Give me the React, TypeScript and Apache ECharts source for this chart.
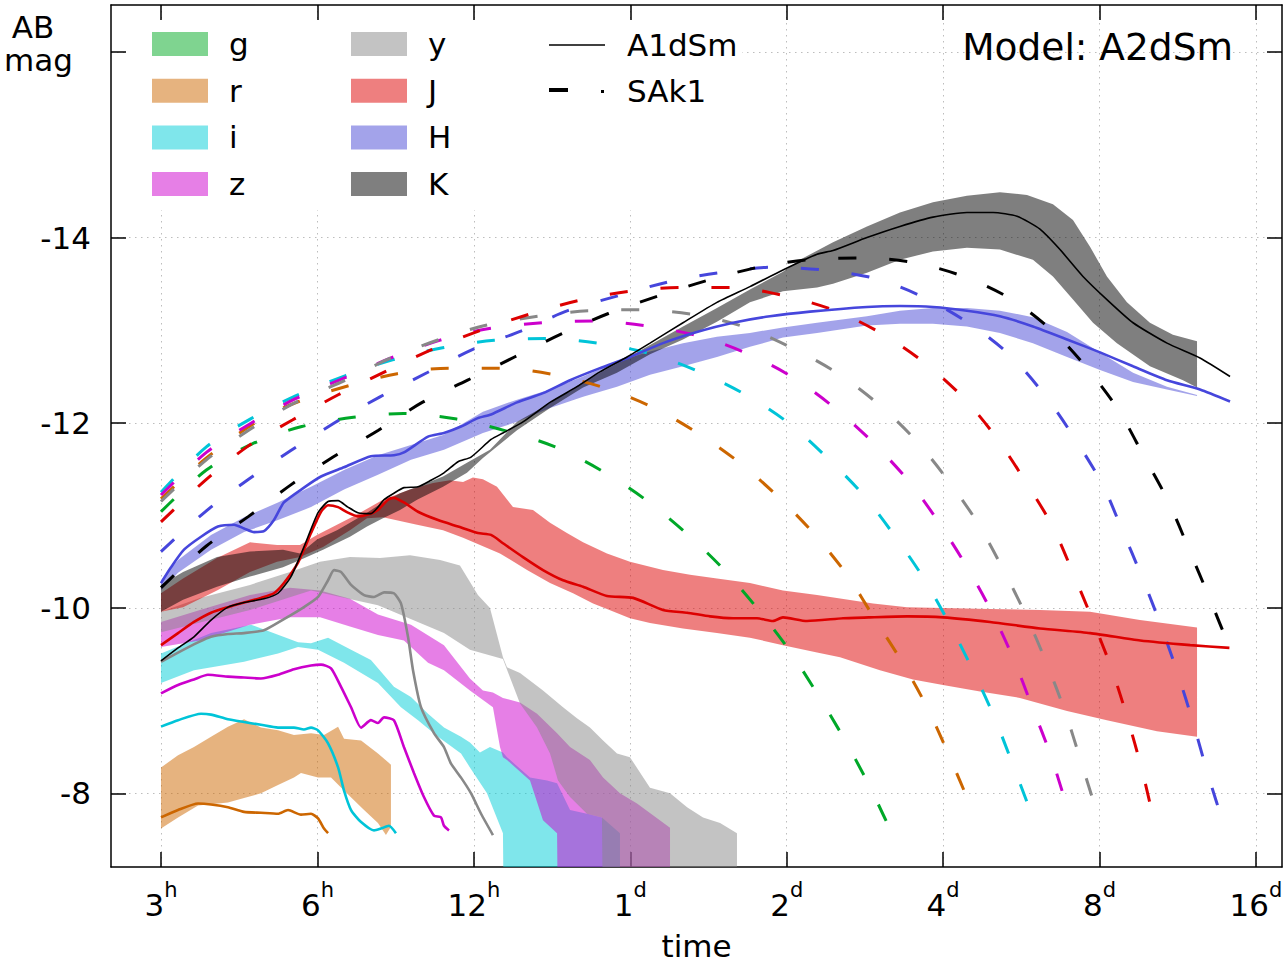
import React, { useEffect, useRef } from 'react';
import * as echarts from 'echarts';

const FONT = '"DejaVu Sans", "Liberation Sans", sans-serif';

// x = log2(time / day), y = AB magnitude
const X_MIN = -3.3196;
const X_MAX = 4.1662;
const Y_MIN = -16.51;
const Y_MAX = -7.205;

const X_TICKS = [-3, -2, -1, 0, 1, 2, 3, 4];
const X_TICK_NUM = ['3', '6', '12', '1', '2', '4', '8', '16'];
const X_TICK_UNIT = ['h', 'h', 'h', 'd', 'd', 'd', 'd', 'd'];
const Y_TICKS = [-16, -14, -12, -10, -8];
const Y_LABELS = [-14, -12, -10, -8];

// ---------- Model A2dSm bands (bright edge / faint edge) ----------
const gHi: number[][] = []; // g band lies below the plotted range
const gLo: number[][] = [];
const rHi = [[-3.0,-8.28],[-2.891,-8.41],[-2.789,-8.50],[-2.680,-8.61],[-2.572,-8.72],[-2.469,-8.80],[-2.361,-8.71],[-2.252,-8.68],[-2.150,-8.63],[-2.041,-8.65],[-1.958,-8.63],[-1.868,-8.72],[-1.830,-8.59],[-1.721,-8.57],[-1.613,-8.43],[-1.530,-8.31]];
const rLo = [[-3.0,-7.62],[-2.891,-7.74],[-2.763,-7.87],[-2.572,-7.90],[-2.469,-7.95],[-2.361,-8.00],[-2.252,-8.09],[-2.150,-8.17],[-2.105,-8.22],[-1.996,-8.17],[-1.913,-8.17],[-1.830,-8.03],[-1.702,-7.82],[-1.613,-7.68],[-1.562,-7.55],[-1.530,-7.64]];
const iHi = [[-3.0,-9.51],[-2.680,-9.73],[-2.424,-9.82],[-2.124,-9.63],[-2.041,-9.62],[-1.932,-9.68],[-1.785,-9.55],[-1.658,-9.44],[-1.511,-9.15],[-1.402,-9.04],[-1.293,-8.86],[-1.191,-8.71],[-1.082,-8.61],[-1.025,-8.55],[-0.961,-8.44],[-0.897,-8.50],[-0.814,-8.44],[-0.788,-8.39],[-0.641,-8.17],[-0.532,-8.14],[-0.468,-8.11],[-0.385,-7.82],[-0.277,-7.78],[-0.181,-7.74],[-0.066,-7.57]];
const iLo = [[-3.0,-9.19],[-2.789,-9.33],[-2.469,-9.42],[-2.252,-9.51],[-2.124,-9.58],[-1.996,-9.55],[-1.830,-9.41],[-1.613,-9.19],[-1.466,-8.93],[-1.357,-8.79],[-1.229,-8.61],[-1.082,-8.43],[-1.025,-8.28],[-0.916,-8.00],[-0.814,-7.57],[-0.812,-6.80],[-0.066,-6.80]];
const zHi = [[-3.0,-9.85],[-2.751,-9.98],[-2.431,-10.14],[-2.175,-10.22],[-1.983,-10.19],[-1.792,-10.10],[-1.613,-9.93],[-1.402,-9.82],[-1.191,-9.60],[-1.025,-9.24],[-0.942,-9.11],[-0.878,-9.09],[-0.814,-9.03],[-0.705,-8.98],[-0.596,-8.86],[-0.468,-8.65],[-0.385,-8.50],[-0.258,-8.36],[-0.174,-8.17],[-0.066,-8.00],[0.043,-7.89],[0.254,-7.63]];
const zLo = [[-3.0,-9.58],[-2.751,-9.65],[-2.431,-9.82],[-2.175,-9.90],[-1.983,-9.90],[-1.792,-9.80],[-1.613,-9.71],[-1.447,-9.65],[-1.293,-9.41],[-1.191,-9.33],[-1.025,-9.11],[-0.878,-8.93],[-0.833,-8.50],[-0.814,-8.39],[-0.788,-8.36],[-0.641,-8.14],[-0.558,-7.71],[-0.468,-7.57],[-0.466,-6.80],[0.254,-6.80]];
const yHi = [[-3.0,-9.96],[-2.751,-10.11],[-2.431,-10.25],[-2.175,-10.39],[-1.984,-10.50],[-1.792,-10.55],[-1.600,-10.54],[-1.408,-10.57],[-1.216,-10.52],[-1.089,-10.46],[-0.974,-10.14],[-0.897,-10.00],[-0.814,-9.47],[-0.788,-9.36],[-0.705,-9.30],[-0.558,-9.11],[-0.430,-8.93],[-0.341,-8.81],[-0.258,-8.71],[-0.174,-8.57],[-0.085,-8.43],[-0.002,-8.39],[0.126,-8.06],[0.254,-8.00],[0.363,-7.85],[0.465,-7.74],[0.574,-7.68],[0.682,-7.57]];
const yLo = [[-3.0,-9.74],[-2.431,-9.98],[-2.041,-10.19],[-1.613,-10.03],[-1.191,-9.73],[-1.025,-9.55],[-0.814,-9.45],[-0.705,-8.97],[-0.596,-8.71],[-0.513,-8.43],[-0.462,-8.14],[-0.385,-7.96],[-0.277,-7.78],[-0.181,-7.74],[-0.178,-6.80],[0.682,-6.80]];
const jHi = [[-3.0,-10.16],[-2.859,-10.32],[-2.642,-10.54],[-2.431,-10.71],[-2.258,-10.68],[-2.111,-10.68],[-2.003,-10.79],[-1.875,-10.90],[-1.747,-11.01],[-1.581,-11.17],[-1.408,-11.28],[-1.261,-11.35],[-1.153,-11.38],[-1.069,-11.36],[-1.006,-11.41],[-0.942,-11.39],[-0.852,-11.31],[-0.750,-11.09],[-0.622,-11.06],[-0.513,-10.92],[-0.405,-10.81],[-0.302,-10.71],[-0.149,-10.59],[-0.002,-10.50],[0.209,-10.41],[0.382,-10.36],[0.554,-10.32],[0.765,-10.27],[0.976,-10.19],[1.194,-10.14],[1.552,-10.05],[1.769,-10.01],[1.999,-10.00],[2.300,-9.99],[2.619,-9.98],[2.939,-9.96],[3.258,-9.87],[3.623,-9.79]];
const jLo = [[-3.0,-9.96],[-2.859,-10.01],[-2.642,-10.19],[-2.431,-10.39],[-2.258,-10.50],[-2.111,-10.55],[-1.964,-10.66],[-1.792,-10.84],[-1.683,-10.97],[-1.581,-10.98],[-1.363,-10.90],[-1.197,-10.84],[-1.069,-10.76],[-0.833,-10.59],[-0.660,-10.41],[-0.513,-10.27],[-0.366,-10.16],[-0.238,-10.05],[-0.149,-9.99],[-0.002,-9.89],[0.126,-9.84],[0.337,-9.78],[0.554,-9.73],[0.765,-9.68],[0.976,-9.60],[1.194,-9.52],[1.341,-9.47],[1.596,-9.33],[1.807,-9.23],[1.999,-9.17],[2.236,-9.10],[2.491,-9.03],[2.792,-8.89],[3.047,-8.79],[3.367,-8.67],[3.623,-8.61]];
const hHi = [[-3.0,-10.30],[-2.891,-10.52],[-2.680,-10.79],[-2.469,-10.98],[-2.252,-11.14],[-2.041,-11.31],[-1.830,-11.49],[-1.613,-11.65],[-1.402,-11.76],[-1.191,-11.87],[-0.942,-12.12],[-0.724,-12.25],[-0.513,-12.36],[-0.302,-12.50],[-0.085,-12.66],[0.126,-12.77],[0.337,-12.86],[0.554,-12.93],[0.765,-12.97],[0.976,-13.03],[1.194,-13.08],[1.513,-13.15],[1.724,-13.21],[1.935,-13.24],[2.152,-13.24],[2.363,-13.21],[2.574,-13.14],[2.792,-12.98],[3.003,-12.76],[3.214,-12.54],[3.431,-12.39],[3.623,-12.30]];
const hLo = [[-3.0,-10.19],[-2.891,-10.38],[-2.680,-10.63],[-2.469,-10.82],[-2.252,-10.95],[-2.041,-11.09],[-1.830,-11.28],[-1.613,-11.44],[-1.402,-11.60],[-1.191,-11.71],[-0.942,-11.89],[-0.724,-12.01],[-0.513,-12.16],[-0.302,-12.28],[-0.085,-12.39],[0.126,-12.52],[0.337,-12.61],[0.554,-12.71],[0.765,-12.82],[0.976,-12.92],[1.194,-12.97],[1.513,-13.05],[1.724,-13.07],[1.935,-13.07],[2.152,-13.04],[2.363,-12.97],[2.574,-12.86],[2.792,-12.71],[3.003,-12.57],[3.214,-12.44],[3.431,-12.36],[3.623,-12.29]];
const kHi = [[-3.0,-10.25],[-2.859,-10.39],[-2.642,-10.55],[-2.431,-10.61],[-2.220,-10.63],[-2.111,-10.59],[-2.003,-10.74],[-1.875,-10.84],[-1.792,-10.92],[-1.683,-11.03],[-1.581,-11.14],[-1.472,-11.24],[-1.363,-11.31],[-1.197,-11.42],[-1.044,-11.57],[-0.897,-11.71],[-0.724,-12.01],[-0.513,-12.21],[-0.302,-12.44],[-0.085,-12.64],[0.126,-12.84],[0.337,-13.04],[0.554,-13.24],[0.765,-13.44],[0.976,-13.63],[1.085,-13.76],[1.296,-13.95],[1.513,-14.12],[1.724,-14.27],[1.935,-14.38],[2.152,-14.45],[2.363,-14.49],[2.536,-14.46],[2.702,-14.36],[2.830,-14.19],[2.939,-13.90],[3.047,-13.58],[3.175,-13.30],[3.322,-13.08],[3.469,-12.95],[3.623,-12.88]];
const kLo = [[-3.0,-9.96],[-2.859,-10.09],[-2.642,-10.23],[-2.431,-10.34],[-2.220,-10.44],[-2.111,-10.52],[-1.964,-10.63],[-1.792,-10.77],[-1.683,-10.88],[-1.581,-10.97],[-1.472,-11.06],[-1.363,-11.17],[-1.197,-11.31],[-1.044,-11.46],[-0.942,-11.62],[-0.724,-11.92],[-0.513,-12.16],[-0.302,-12.38],[-0.085,-12.54],[0.126,-12.74],[0.337,-12.90],[0.554,-13.09],[0.765,-13.30],[0.976,-13.42],[1.194,-13.46],[1.296,-13.50],[1.513,-13.62],[1.724,-13.76],[1.935,-13.85],[2.152,-13.89],[2.363,-13.87],[2.574,-13.76],[2.702,-13.58],[2.830,-13.33],[2.958,-13.08],[3.111,-12.86],[3.322,-12.61],[3.533,-12.46],[3.623,-12.38]];

// ---------- Model A1dSm (solid) ----------
const a1R = [[-3.0,-7.74],[-2.891,-7.82],[-2.763,-7.89],[-2.680,-7.88],[-2.572,-7.85],[-2.469,-7.80],[-2.361,-7.79],[-2.252,-7.78],[-2.188,-7.82],[-2.105,-7.77],[-2.041,-7.78],[-1.996,-7.73],[-1.958,-7.62],[-1.932,-7.57]];
const a1I = [[-3.0,-8.72],[-2.891,-8.79],[-2.744,-8.86],[-2.680,-8.85],[-2.572,-8.80],[-2.469,-8.77],[-2.361,-8.74],[-2.252,-8.71],[-2.150,-8.71],[-2.086,-8.69],[-2.041,-8.71],[-1.996,-8.68],[-1.932,-8.54],[-1.868,-8.28],[-1.830,-8.03],[-1.785,-7.82],[-1.721,-7.69],[-1.638,-7.60],[-1.594,-7.62],[-1.543,-7.65],[-1.498,-7.57]];
const a1Z = [[-3.0,-9.08],[-2.891,-9.17],[-2.789,-9.23],[-2.700,-9.28],[-2.572,-9.26],[-2.469,-9.25],[-2.361,-9.24],[-2.252,-9.28],[-2.150,-9.34],[-2.041,-9.38],[-1.977,-9.39],[-1.913,-9.35],[-1.849,-9.15],[-1.785,-8.93],[-1.721,-8.71],[-1.658,-8.79],[-1.613,-8.76],[-1.574,-8.82],[-1.511,-8.79],[-1.447,-8.50],[-1.383,-8.22],[-1.319,-7.96],[-1.255,-7.76],[-1.210,-7.74],[-1.191,-7.65],[-1.159,-7.60]];
const a1Y = [[-3.0,-9.42],[-2.891,-9.52],[-2.763,-9.63],[-2.680,-9.69],[-2.572,-9.72],[-2.469,-9.73],[-2.342,-9.76],[-2.214,-9.88],[-2.086,-10.01],[-1.996,-10.12],[-1.932,-10.30],[-1.894,-10.41],[-1.849,-10.39],[-1.785,-10.25],[-1.702,-10.14],[-1.638,-10.12],[-1.574,-10.17],[-1.511,-10.16],[-1.466,-10.05],[-1.421,-9.69],[-1.389,-9.33],[-1.338,-8.93],[-1.255,-8.65],[-1.191,-8.50],[-1.146,-8.32],[-1.082,-8.17],[-1.018,-8.00],[-0.954,-7.78],[-0.878,-7.55]];
const a1J = [[-3.0,-9.60],[-2.891,-9.73],[-2.789,-9.85],[-2.680,-9.95],[-2.572,-10.01],[-2.469,-10.06],[-2.361,-10.11],[-2.278,-10.16],[-2.214,-10.27],[-2.124,-10.49],[-2.041,-10.81],[-1.977,-11.04],[-1.932,-11.11],[-1.868,-11.09],[-1.805,-11.03],[-1.741,-10.99],[-1.677,-11.01],[-1.613,-11.06],[-1.549,-11.17],[-1.511,-11.19],[-1.447,-11.14],[-1.357,-11.04],[-1.229,-10.95],[-1.101,-10.88],[-0.974,-10.81],[-0.890,-10.79],[-0.814,-10.70],[-0.686,-10.55],[-0.558,-10.41],[-0.430,-10.30],[-0.302,-10.23],[-0.149,-10.13],[0.018,-10.11],[0.209,-9.98],[0.363,-9.95],[0.510,-9.91],[0.657,-9.89],[0.810,-9.89],[0.912,-9.86],[0.976,-9.90],[1.130,-9.86],[1.360,-9.89],[1.532,-9.90],[1.770,-9.91],[2.000,-9.90],[2.300,-9.85],[2.620,-9.78],[2.940,-9.73],[3.260,-9.65],[3.580,-9.60],[3.830,-9.57]];
const a1H = [[-3.0,-10.27],[-2.936,-10.44],[-2.853,-10.63],[-2.744,-10.77],[-2.636,-10.88],[-2.533,-10.90],[-2.469,-10.86],[-2.405,-10.82],[-2.342,-10.83],[-2.278,-10.95],[-2.214,-11.14],[-2.086,-11.30],[-1.977,-11.42],[-1.830,-11.52],[-1.658,-11.64],[-1.511,-11.65],[-1.447,-11.68],[-1.293,-11.85],[-1.191,-11.89],[-1.082,-11.96],[-0.974,-12.05],[-0.890,-12.09],[-0.724,-12.22],[-0.558,-12.32],[-0.385,-12.46],[-0.194,-12.59],[-0.002,-12.71],[0.209,-12.86],[0.426,-12.98],[0.657,-13.08],[0.893,-13.15],[1.149,-13.20],[1.513,-13.25],[1.724,-13.26],[1.935,-13.25],[2.152,-13.21],[2.363,-13.15],[2.574,-13.04],[2.792,-12.90],[3.003,-12.76],[3.214,-12.61],[3.431,-12.46],[3.642,-12.36],[3.834,-12.23]];
const a1K = [[-3.0,-9.43],[-2.891,-9.57],[-2.789,-9.69],[-2.680,-9.87],[-2.572,-10.01],[-2.469,-10.06],[-2.342,-10.10],[-2.252,-10.16],[-2.169,-10.34],[-2.086,-10.66],[-1.996,-11.03],[-1.932,-11.15],[-1.868,-11.16],[-1.805,-11.09],[-1.741,-11.03],[-1.658,-11.02],[-1.574,-11.17],[-1.511,-11.24],[-1.447,-11.30],[-1.357,-11.31],[-1.274,-11.38],[-1.191,-11.46],[-1.101,-11.58],[-1.018,-11.63],[-0.890,-11.82],[-0.814,-11.89],[-0.686,-12.01],[-0.513,-12.22],[-0.341,-12.39],[-0.194,-12.55],[-0.021,-12.71],[0.126,-12.86],[0.337,-13.08],[0.554,-13.30],[0.765,-13.47],[0.976,-13.65],[1.194,-13.82],[1.296,-13.86],[1.513,-14.00],[1.724,-14.12],[1.935,-14.22],[2.152,-14.27],[2.319,-14.27],[2.472,-14.23],[2.619,-14.09],[2.747,-13.87],[2.894,-13.58],[3.047,-13.33],[3.214,-13.08],[3.431,-12.86],[3.642,-12.70],[3.834,-12.50]];

// ---------- Model SAk1 (dashed) ----------
const sakG = [[-3.0,-11.04],[-2.71,-11.49],[-2.42,-11.77],[-2.10,-11.96],[-1.77,-12.06],[-1.45,-12.10],[-1.11,-12.04],[-0.79,-11.91],[-0.48,-11.74],[-0.18,-11.48],[0.09,-11.18],[0.35,-10.82],[0.59,-10.43],[0.81,-10.00],[1.01,-9.56],[1.19,-9.09],[1.36,-8.61],[1.52,-8.11],[1.66,-7.62],[1.69,-7.55]];
const sakR = [[-3.0,-11.18],[-2.71,-11.62],[-2.38,-12.02],[-2.12,-12.23],[-1.80,-12.40],[-1.49,-12.53],[-1.16,-12.59],[-0.83,-12.59],[-0.49,-12.52],[-0.17,-12.38],[0.14,-12.17],[0.43,-11.89],[0.69,-11.58],[0.94,-11.21],[1.17,-10.81],[1.385,-10.36],[1.56,-9.89],[1.74,-9.41],[1.90,-8.92],[2.04,-8.40],[2.17,-7.89],[2.20,-7.80]];
const sakI = [[-3.0,-11.25],[-2.71,-11.74],[-2.43,-12.04],[-2.14,-12.29],[-1.82,-12.51],[-1.52,-12.68],[-1.20,-12.81],[-0.87,-12.89],[-0.53,-12.91],[-0.21,-12.86],[0.12,-12.75],[0.43,-12.56],[0.73,-12.31],[1.01,-12.00],[1.26,-11.62],[1.49,-11.22],[1.69,-10.78],[1.88,-10.31],[2.04,-9.83],[2.19,-9.33],[2.33,-8.81],[2.45,-8.29],[2.57,-7.76],[2.60,-7.66]];
const sakZ = [[-3.0,-11.22],[-2.71,-11.68],[-2.43,-11.99],[-2.14,-12.26],[-1.82,-12.49],[-1.53,-12.70],[-1.22,-12.89],[-0.93,-13.01],[-0.56,-13.08],[-0.24,-13.10],[0.09,-13.05],[0.43,-12.94],[0.73,-12.76],[1.03,-12.50],[1.30,-12.17],[1.55,-11.79],[1.79,-11.35],[1.97,-10.93],[2.15,-10.45],[2.31,-9.96],[2.45,-9.45],[2.57,-8.93],[2.69,-8.40],[2.79,-7.87],[2.82,-7.75]];
const sakY = [[-3.0,-11.15],[-2.71,-11.60],[-2.43,-11.93],[-2.14,-12.22],[-1.82,-12.46],[-1.53,-12.70],[-1.22,-12.90],[-0.93,-13.05],[-0.59,-13.15],[-0.27,-13.21],[0.07,-13.22],[0.40,-13.17],[0.72,-13.04],[1.02,-12.82],[1.32,-12.54],[1.58,-12.21],[1.82,-11.82],[2.04,-11.36],[2.22,-10.92],[2.38,-10.43],[2.53,-9.92],[2.66,-9.41],[2.78,-8.88],[2.88,-8.35],[2.98,-7.81],[3.00,-7.70]];
const sakJ = [[-3.0,-10.93],[-2.71,-11.39],[-2.45,-11.74],[-2.16,-12.03],[-1.87,-12.30],[-1.57,-12.55],[-1.27,-12.79],[-0.97,-12.99],[-0.65,-13.17],[-0.33,-13.32],[0.0,-13.42],[0.33,-13.46],[0.66,-13.46],[0.99,-13.37],[1.31,-13.21],[1.61,-12.96],[1.88,-12.65],[2.13,-12.27],[2.34,-11.84],[2.54,-11.33],[2.70,-10.88],[2.83,-10.38],[2.96,-9.85],[3.08,-9.33],[3.18,-8.80],[3.27,-8.26],[3.35,-7.71],[3.38,-7.60]];
const sakH = [[-3.0,-10.61],[-2.71,-11.05],[-2.44,-11.39],[-2.17,-11.70],[-1.89,-12.00],[-1.60,-12.28],[-1.30,-12.54],[-1.01,-12.79],[-0.70,-12.99],[-0.40,-13.21],[-0.08,-13.37],[0.24,-13.52],[0.57,-13.62],[0.91,-13.68],[1.23,-13.65],[1.56,-13.56],[1.87,-13.36],[2.16,-13.08],[2.42,-12.74],[2.64,-12.32],[2.83,-11.86],[3.02,-11.33],[3.14,-10.86],[3.27,-10.34],[3.39,-9.82],[3.50,-9.29],[3.60,-8.75],[3.69,-8.22],[3.79,-7.68],[3.81,-7.58]];
const sakK = [[-3.0,-10.22],[-2.71,-10.67],[-2.44,-10.99],[-2.17,-11.33],[-1.90,-11.63],[-1.61,-11.92],[-1.33,-12.22],[-1.04,-12.46],[-0.74,-12.71],[-0.44,-12.96],[-0.14,-13.18],[0.18,-13.37],[0.50,-13.54],[0.82,-13.68],[1.14,-13.76],[1.48,-13.78],[1.81,-13.73],[2.13,-13.58],[2.43,-13.34],[2.70,-12.99],[2.92,-12.59],[3.12,-12.14],[3.28,-11.65],[3.44,-11.15],[3.57,-10.64],[3.70,-10.12],[3.82,-9.63],[3.85,-9.57]];

const BAND_NAMES = ['g', 'r', 'i', 'z', 'y', 'J', 'H', 'K'];
const BAND_FILL = ['rgba(0,170,34,0.5)', 'rgba(205,103,0,0.5)', 'rgba(0,205,215,0.5)', 'rgba(205,0,205,0.5)', 'rgba(135,135,135,0.5)', 'rgba(221,0,0,0.5)', 'rgba(71,71,213,0.5)', 'rgba(0,0,0,0.5)'];
const LINE_COLOR = ['#00a828', '#cc6600', '#00c4d8', '#cc00cc', '#888888', '#dd0000', '#4646dc', '#000000'];
const BAND_HI = [gHi, rHi, iHi, zHi, yHi, jHi, hHi, kHi];
const BAND_LO = [gLo, rLo, iLo, zLo, yLo, jLo, hLo, kLo];
const A1 = [null, a1R, a1I, a1Z, a1Y, a1J, a1H, a1K];
const SAK = [sakG, sakR, sakI, sakZ, sakY, sakJ, sakH, sakK];

const clampY = (v: number) => Math.min(Math.max(v, Y_MIN), Y_MAX);

function buildOption(): any {
  const series: any[] = [];
  BAND_NAMES.forEach((name, k) => {
    const hi = BAND_HI[k];
    const lo = BAND_LO[k];
    series.push({
      type: 'custom',
      name: name,
      coordinateSystem: 'cartesian2d',
      silent: true,
      clip: true,
      z: 2,
      data: hi.length ? [hi[0]] : [],
      renderItem: (_p: any, api: any) => {
        const pts = hi.map((d) => api.coord([d[0], clampY(d[1])]))
          .concat(lo.slice().reverse().map((d) => api.coord([d[0], clampY(d[1])])));
        return { type: 'polygon', shape: { points: pts }, style: { fill: BAND_FILL[k], lineWidth: 0 } };
      },
    });
  });
  BAND_NAMES.forEach((name, k) => {
    series.push({
      type: 'line', name: 'SAk1 ' + name, data: SAK[k], showSymbol: false, silent: true, smooth: 0.3, z: 3,
      lineStyle: { color: LINE_COLOR[k], width: 3, type: [18, 33], cap: 'butt' },
    });
  });
  BAND_NAMES.forEach((name, k) => {
    const d = A1[k];
    if (!d) return;
    series.push({
      type: 'line', name: 'A1dSm ' + name, data: d, showSymbol: false, silent: true, smooth: 0.2, z: 4,
      lineStyle: { color: LINE_COLOR[k], width: name === 'K' ? 1.6 : 2.6 },
    });
  });

  const axisLine = { show: true, onZero: false, lineStyle: { color: '#000', width: 1.5 } };
  const tick = (vals: number[]) => ({ show: true, inside: true, length: 15, customValues: vals, lineStyle: { color: '#000', width: 1.5 } });
  const grid = { show: true, lineStyle: { color: '#bdbdbd', width: 1, type: [1.5, 4.5] } };

  const legendEls: any[] = [
    { type: 'rect', shape: { x: 127, y: 21, width: 615, height: 189 }, style: { fill: '#fff' }, z: 10, silent: true },
  ];
  BAND_NAMES.forEach((name, k) => {
    const col = Math.floor(k / 4);
    const row = k % 4;
    const cy = 44 + row * 46.7;
    const bx = col === 0 ? 152 : 351;
    legendEls.push({ type: 'rect', shape: { x: bx, y: cy - 12, width: 56, height: 24 }, style: { fill: BAND_FILL[k] }, z: 11, silent: true });
    legendEls.push({ type: 'text', x: bx + 77, y: cy, style: { text: name, fontSize: 31, fontFamily: FONT, fill: '#000', align: 'left', verticalAlign: 'middle' }, z: 11, silent: true });
  });
  legendEls.push({ type: 'line', shape: { x1: 549, y1: 45, x2: 605, y2: 45 }, style: { stroke: '#000', lineWidth: 1.5 }, z: 11, silent: true });
  legendEls.push({ type: 'text', x: 627, y: 45, style: { text: 'A1dSm', fontSize: 31, fontFamily: FONT, fill: '#000', align: 'left', verticalAlign: 'middle' }, z: 11, silent: true });
  legendEls.push({ type: 'line', shape: { x1: 549, y1: 90, x2: 568, y2: 90 }, style: { stroke: '#000', lineWidth: 4 }, z: 11, silent: true });
  legendEls.push({ type: 'rect', shape: { x: 601, y: 90, width: 3, height: 3 }, style: { fill: '#000' }, z: 11, silent: true });
  legendEls.push({ type: 'text', x: 627, y: 91, style: { text: 'SAk1', fontSize: 31, fontFamily: FONT, fill: '#000', align: 'left', verticalAlign: 'middle' }, z: 11, silent: true });
  legendEls.push({ type: 'text', x: 1233, y: 47, style: { text: 'Model: A2dSm', fontSize: 37.5, fontFamily: FONT, fill: '#000', align: 'right', verticalAlign: 'middle' }, z: 11, silent: true });
  legendEls.push({ type: 'text', x: 33, y: 27, style: { text: 'AB', fontSize: 31, fontFamily: FONT, fill: '#000', align: 'center', verticalAlign: 'middle' }, z: 11, silent: true });
  legendEls.push({ type: 'text', x: 38.5, y: 60, style: { text: 'mag', fontSize: 31, fontFamily: FONT, fill: '#000', align: 'center', verticalAlign: 'middle' }, z: 11, silent: true });

  return {
    animation: false,
    backgroundColor: '#fff',
    textStyle: { fontFamily: FONT },
    grid: { left: 111, right: 5, top: 5, bottom: 95, containLabel: false, outerBoundsMode: 'none' },
    xAxis: [
      {
        type: 'value', min: X_MIN, max: X_MAX, position: 'bottom',
        axisLine, axisTick: tick(X_TICKS), splitLine: grid,
        axisLabel: {
          customValues: X_TICKS, margin: 12, color: '#000',
          formatter: (v: number) => {
            const i = X_TICKS.findIndex((t) => Math.abs(t - v) < 1e-6);
            return i < 0 ? '' : '{n|' + X_TICK_NUM[i] + '}{s|' + X_TICK_UNIT[i] + '}';
          },
          rich: {
            n: { fontSize: 31, fontFamily: FONT, color: '#000', lineHeight: 52 },
            s: { fontSize: 21, fontFamily: FONT, color: '#000', lineHeight: 26, verticalAlign: 'top' },
          },
        },
        name: 'time', nameLocation: 'middle', nameGap: 63,
        nameTextStyle: { fontSize: 31, fontFamily: FONT, color: '#000' },
      },
      {
        type: 'value', min: X_MIN, max: X_MAX, position: 'top',
        axisLine, axisTick: tick(X_TICKS), splitLine: { show: false }, axisLabel: { show: false },
      },
    ],
    yAxis: [
      {
        type: 'value', min: Y_MIN, max: Y_MAX, inverse: true, position: 'left',
        axisLine, axisTick: tick(Y_TICKS), splitLine: grid,
        axisLabel: { customValues: Y_LABELS, margin: 20, fontSize: 31, fontFamily: FONT, color: '#000', formatter: (v: number) => String(Math.round(v)) },
      },
      {
        type: 'value', min: Y_MIN, max: Y_MAX, inverse: true, position: 'right',
        axisLine, axisTick: tick(Y_TICKS), splitLine: { show: false }, axisLabel: { show: false },
      },
    ],
    graphic: { elements: legendEls },
    series,
  };
}

export default function App() {
  const ref = useRef<HTMLDivElement>(null);
  useEffect(() => {
    if (!ref.current) return;
    const chart = echarts.init(ref.current, undefined, { renderer: 'svg' });
    chart.setOption(buildOption());
    return () => chart.dispose();
  }, []);
  return (
    <div
      ref={ref}
      style={{ position: 'fixed', left: 0, top: 0, width: 1287, height: 962, background: '#fff' }}
    />
  );
}
